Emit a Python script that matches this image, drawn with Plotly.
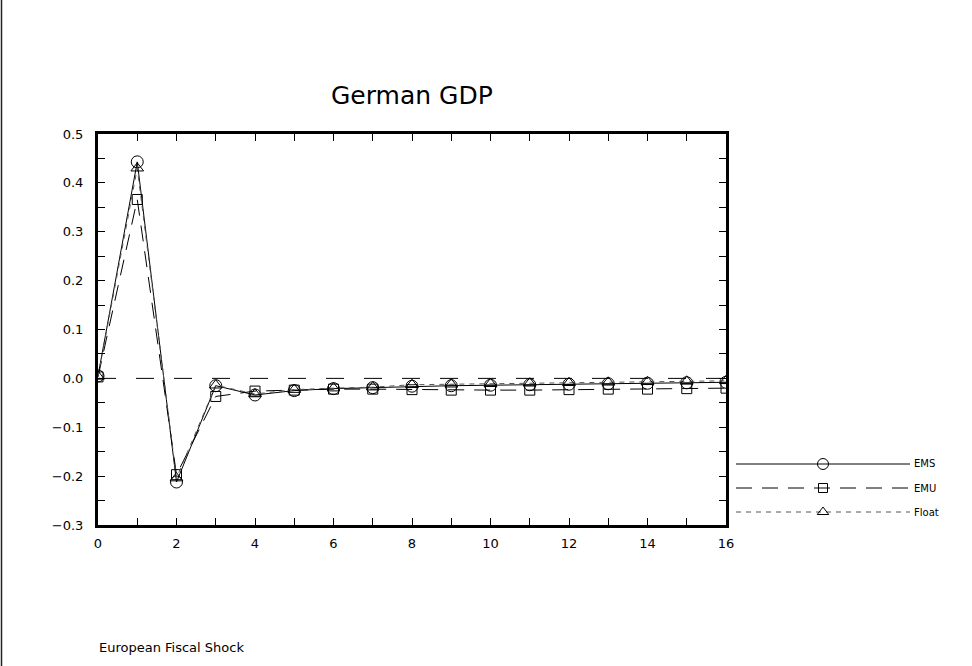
import plotly.graph_objects as go

# ---- data ----
quarters = list(range(17))
ems = [0.005, 0.443, -0.212, -0.015, -0.034, -0.025, -0.021, -0.019, -0.016,
       -0.015, -0.014, -0.013, -0.012, -0.011, -0.010, -0.009, -0.008]
emu = [0.003, 0.366, -0.197, -0.037, -0.026, -0.024, -0.022, -0.022, -0.023,
       -0.024, -0.024, -0.024, -0.023, -0.022, -0.022, -0.021, -0.020]
flt = [0.004, 0.430, -0.204, -0.014, -0.032, -0.023, -0.020, -0.018, -0.013,
       -0.012, -0.011, -0.010, -0.009, -0.008, -0.007, -0.006, -0.005]

series_names = ['EMS', 'EMU', 'Float']
x_ticks = [0, 2, 4, 6, 8, 10, 12, 14, 16]
y_ticks = [-0.3, -0.2, -0.1, 0.0, 0.1, 0.2, 0.3, 0.4, 0.5]

W, H = 972, 666
FONT = 'DejaVu Sans'

def px_x(p):
    return p / W

def px_y(p):
    return 1 - p / H

styles = [
    dict(color='black', dash='solid', symbol='circle-open', size=12),
    dict(color='black', dash='16px,10px', symbol='square-open', size=10),
    dict(color='#555555', dash='5px,5px', symbol='triangle-up-open', size=11),
]

fig = go.Figure()

for name, vals, st in zip(series_names, [ems, emu, flt], styles):
    fig.add_trace(go.Scatter(
        x=quarters, y=vals, mode='lines+markers', name=name,
        line=dict(color=st['color'], width=1, dash=st['dash']),
        marker=dict(symbol=st['symbol'], size=st['size'],
                    color='black', line=dict(width=1, color='black')),
        showlegend=False,
    ))

# hand-made legend on its own little axis pair
legend_rows = [464, 488, 512]
for i, (name, st) in enumerate(zip(series_names, styles)):
    row = 2.5 - i
    fig.add_trace(go.Scatter(
        x=[0, 1], y=[row, row], mode='lines', xaxis='x2', yaxis='y2',
        line=dict(color=st['color'], width=1, dash=st['dash']),
        showlegend=False, hoverinfo='skip',
    ))
    fig.add_trace(go.Scatter(
        x=[0.5], y=[row], mode='markers', xaxis='x2', yaxis='y2',
        marker=dict(symbol=st['symbol'], size=st['size'] - 1,
                    color='black', line=dict(width=1, color='black')),
        showlegend=False, hoverinfo='skip',
    ))
    fig.add_annotation(x=px_x(912), y=px_y(legend_rows[i]), xref='paper',
                       yref='paper', text=name, showarrow=False,
                       xanchor='left', yanchor='middle',
                       font=dict(family=FONT, size=10, color='black'))

# zero line
fig.add_shape(type='line', x0=0, x1=16, y0=0, y1=0, xref='x', yref='y',
              line=dict(color='black', width=1, dash='18px,20px'))

# thin border at the left edge of the page
fig.add_shape(type='line', x0=px_x(1.5), x1=px_x(1.5), y0=0, y1=1,
              xref='paper', yref='paper',
              line=dict(color='#222222', width=1.5))

fig.add_annotation(x=px_x(412), y=px_y(96), xref='paper', yref='paper',
                   text='German GDP', showarrow=False,
                   xanchor='center', yanchor='middle',
                   font=dict(family=FONT, size=25, color='black'))
fig.add_annotation(x=px_x(97), y=px_y(647), xref='paper', yref='paper',
                   text='European Fiscal Shock', showarrow=False,
                   xanchor='left', yanchor='middle',
                   font=dict(family=FONT, size=13, color='black'))

axis_common = dict(
    showgrid=False, zeroline=False, showline=True, linewidth=3,
    linecolor='black', mirror='ticks', ticks='inside', ticklen=7,
    tickwidth=1, tickcolor='black', automargin=False,
    tickfont=dict(family=FONT, size=13, color='black'),
)

fig.update_layout(
    width=W, height=H,
    margin=dict(l=0, r=0, t=0, b=0, autoexpand=False),
    plot_bgcolor='white', paper_bgcolor='white',
    xaxis=dict(domain=[px_x(98), px_x(726)], range=[0, 16],
               tickvals=x_ticks, ticklabelstandoff=4,
               minor=dict(dtick=1, ticks='inside', ticklen=7,
                          tickcolor='black', showgrid=False),
               **axis_common),
    yaxis=dict(domain=[px_y(525), px_y(134)], range=[-0.3, 0.5],
               tickvals=y_ticks, tickformat='.1f', ticklabelstandoff=9,
               minor=dict(dtick=0.05, ticks='inside', ticklen=7,
                          tickcolor='black', showgrid=False),
               **axis_common),
    xaxis2=dict(domain=[px_x(736), px_x(910)], range=[0, 1], visible=False,
                anchor='y2'),
    yaxis2=dict(domain=[px_y(524), px_y(452)], range=[0, 3], visible=False,
                anchor='x2'),
)

# the page's default body margin would shift the figure by 8px
fig.write_html("out.html", config={'displayModeBar': False},
               post_script="document.body.style.margin='0';")
